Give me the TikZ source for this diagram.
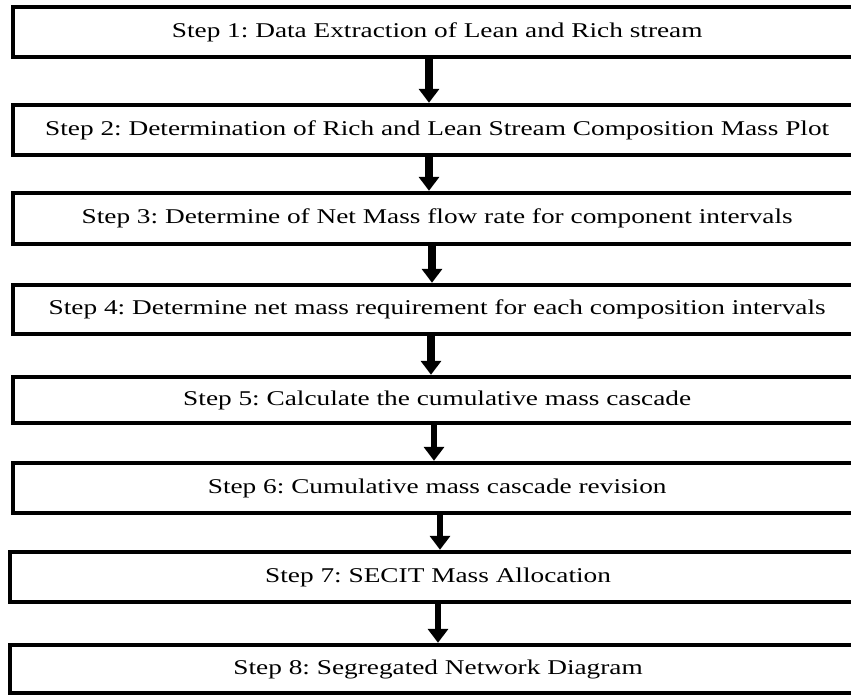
\documentclass[tikz,border=0pt]{standalone}
\usepackage{fontspec}
\setmainfont{Liberation Serif}
\usetikzlibrary{arrows.meta}
\frenchspacing
\tikzset{
  stepbox/.style={minimum width=880pt, inner sep=0pt, anchor=west, font=\fontsize{21}{25}\selectfont},
  boxline/.style={line width=4.5pt, line join=miter},
  flow/.style={line width=#1, -{Triangle[width=20pt,length=14pt]}, shorten >=2pt},
  flow/.default=7.5pt
}
\newcommand{\wtxt}[1]{\makebox[848pt]{\scalebox{1.30}[1]{#1}}\hspace*{32pt}}
\begin{document}
\begin{tikzpicture}[x=1pt,y=-1pt]
\useasboundingbox (0,0) rectangle (851,695);
\clip (0,0) rectangle (851,695);
\fill[white] (0,0) rectangle (851,695);
\node[stepbox, minimum height=50pt] (b1) at (13,32) {\wtxt{Step 1: Data Extraction of Lean and Rich stream}};
\node[stepbox, minimum height=50pt] (b2) at (13,130) {\wtxt{Step 2: Determination of Rich and Lean Stream Composition Mass Plot}};
\node[stepbox, minimum height=51pt] (b3) at (13,218.5) {\wtxt{Step 3: Determine of Net Mass flow rate for component intervals}};
\node[stepbox, minimum height=49pt] (b4) at (13,309.5) {\wtxt{Step 4: Determine net mass requirement for each composition intervals}};
\node[stepbox, minimum height=46pt] (b5) at (13,400) {\wtxt{Step 5: Calculate the cumulative mass cascade}};
\node[stepbox, minimum height=50pt] (b6) at (13,488) {\wtxt{Step 6: Cumulative mass cascade revision}};
\node[stepbox, minimum height=50pt] (b7) at (10,577) {\wtxt{\hspace*{6pt}Step 7: SECIT Mass Allocation}};
\node[stepbox, minimum height=48pt] (b8) at (10,669) {\wtxt{\hspace*{6pt}Step 8: Segregated Network Diagram}};
\foreach \b in {b1,b2,b3,b4,b5,b6,b7,b8}
  \draw[boxline] (\b.north east) -- (\b.north west) -- (\b.south west) -- (\b.south east);
\draw[flow] (b1.south -| 429,0) -- (b2.north -| 429,0);
\draw[flow] (b2.south -| 429,0) -- (b3.north -| 429,0);
\draw[flow] (b3.south -| 432,0) -- (b4.north -| 432,0);
\draw[flow] (b4.south -| 431,0) -- (b5.north -| 431,0);
\draw[flow=5.5pt] (b5.south -| 434,0) -- (b6.north -| 434,0);
\draw[flow=6.5pt] (b6.south -| 440,0) -- (b7.north -| 440,0);
\draw[flow=6.5pt] (b7.south -| 438,0) -- (b8.north -| 438,0);
\end{tikzpicture}
\end{document}
